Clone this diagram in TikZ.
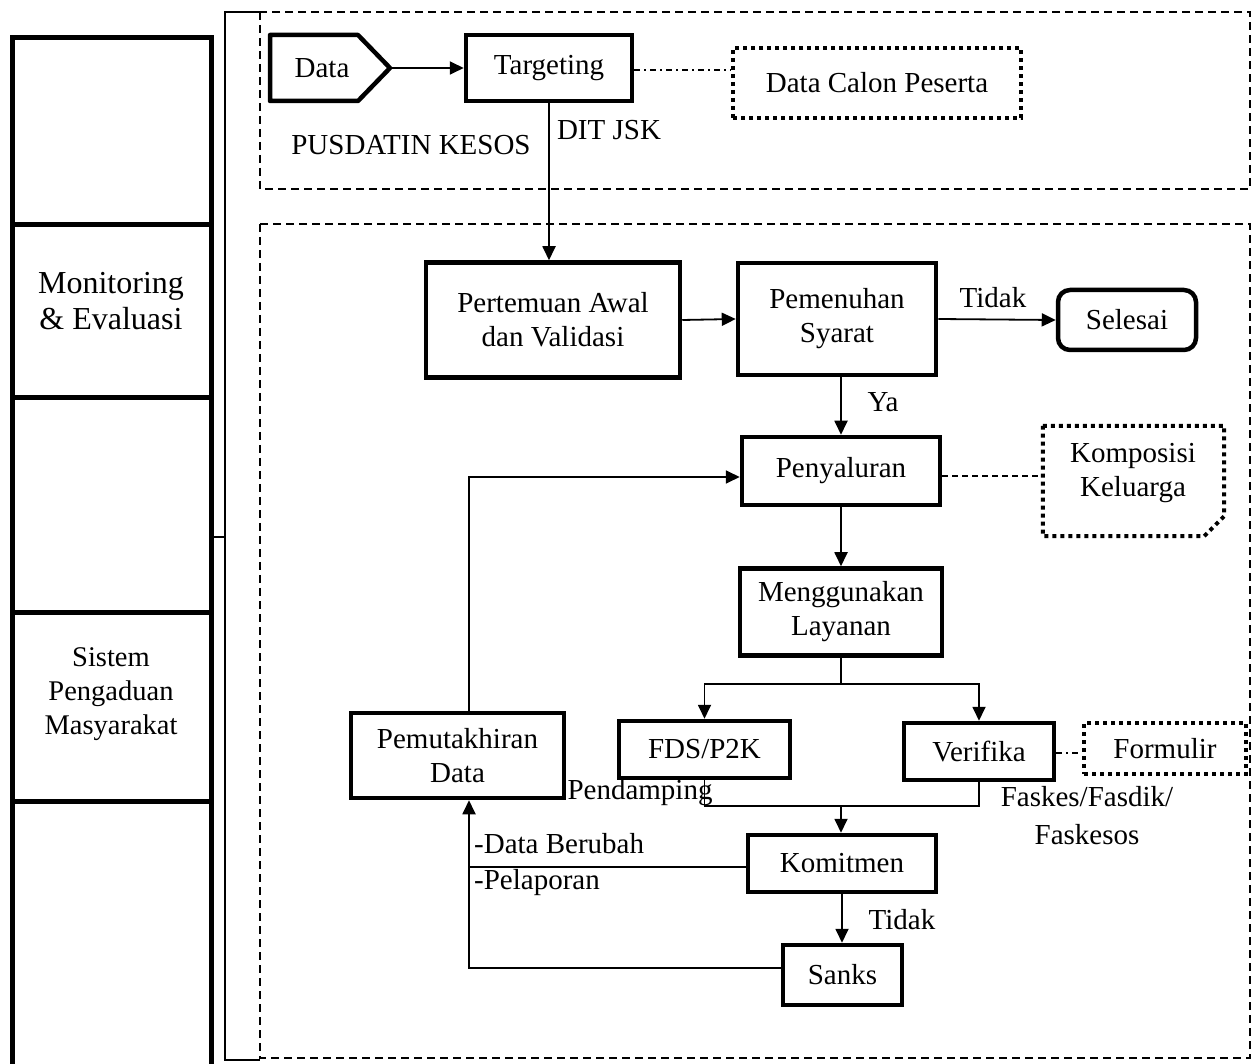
\documentclass[tikz,border=0pt]{standalone}
\usepackage{fontspec}
\setmainfont{Liberation Serif}
\usetikzlibrary{arrows.meta,calc}
\begin{document}
\begin{tikzpicture}[x=1pt,y=-1pt,
  every node/.style={font=\fontsize{29}{34}\selectfont, inner sep=0pt, align=center},
  fbox/.style={draw, line width=4.5pt, rectangle},
  colcell/.style={draw, line width=5pt, minimum width=199pt},
  wire/.style={line width=1.8pt},
  conn/.style={line width=1.8pt, -{Triangle[length=14pt,width=13pt]}},
  dotbox/.style={draw, line width=4pt, dash pattern=on 4pt off 4pt},
  dashbox/.style={line width=1.5pt, dash pattern=on 8pt off 5pt},
  dashdot/.style={line width=1.5pt, dash pattern=on 6pt off 4pt on 2pt off 4pt}]
\useasboundingbox (0,0) rectangle (1254,1064);

% left column
\node[colcell, minimum height=187pt] (c1) at (111.5,131.5) {};
\node[colcell, minimum height=173pt] (c2) at (111.5,311.5) {};
\node[colcell, minimum height=214pt] (c3) at (111.5,505) {};
\node[colcell, minimum height=189pt] (c4) at (111.5,706.5) {};
\node[colcell, minimum height=289pt] (c5) at (111.5,945.5) {};
\node[font=\fontsize{32}{36}\selectfont] (mon) at (111,301) {Monitoring\\\& Evaluasi};
\node[font=\fontsize{28.5}{34}\selectfont] (sis) at (111,694) {Sistem\\Pengaduan\\Masyarakat};

% bracket and lanes
\coordinate (br) at (225,537);
\draw[wire] (260,12) -- (225,12) -- (225,1060) -- (260,1060);
\draw[wire] (c3.east |- br) -- (br);
\draw[dashbox] (260,12) rectangle (1250,189);
\draw[dashbox] (260,224) rectangle (1250,1058);

% top lane
\node (data) at (322,68) {Data};
\draw[line width=4.5pt, line join=round] (270,35) -- (358,35) -- (390,68) -- (358,101) -- (270,101) -- cycle;
\coordinate (dtip) at (392,68);
\node[fbox, minimum width=166pt, minimum height=66pt] (tgt) at (549,68) {Targeting};
\draw[conn] (dtip) -- (tgt);
\node[dotbox, minimum width=288pt, minimum height=70pt] (dcp) at (877,83) {Data Calon Peserta};
\draw[dashdot] (tgt.east |- 0,70) -- (dcp.west |- 0,70);
\node (pus) at (411,145) {PUSDATIN KESOS};
\node (dit) at (609,130) {DIT JSK};

% main flow
\node[fbox, minimum width=254pt, minimum height=115pt] (pert) at (553,320) {Pertemuan Awal\\dan Validasi};
\draw[conn] (tgt.south) -- (tgt.south |- pert.north);
\node[fbox, minimum width=198pt, minimum height=112pt] (pem) at (837,319) {Pemenuhan\\Syarat};
\draw[conn] (pert.east) -- (pem.west);
\node[fbox, rounded corners=12pt, minimum width=138pt, minimum height=60pt] (sel) at (1127,320) {Selesai};
\draw[conn] (pem.east) -- (sel.west);
\node (tidak1) at (993,298) {Tidak};

\node[fbox, minimum width=198pt, minimum height=68pt] (pen) at (841,471) {Penyaluran};
\draw[conn] (pen.north |- pem.south) -- (pen.north);
\node (ya) at (883,402) {Ya};

\node[minimum width=181pt, minimum height=110pt] (komp) at (1133.5,481) {};
\node (komptext) at (1133,473) {Komposisi\\Keluarga};
\draw[dotbox] (komp.north west) -- (komp.north east) -- ($(komp.south east)+(0,-20)$) -- ($(komp.south east)+(-20,0)$) -- (komp.south west) -- cycle;
\draw[wire, dash pattern=on 6pt off 4pt] (pen.east |- 0,476) -- (komp.west |- 0,476);

\node[fbox, minimum width=202pt, minimum height=87pt] (men) at (841,612) {Menggunakan\\Layanan};
\draw[conn] (pen.south) -- (men.north);

\node[fbox, minimum width=171pt, minimum height=57pt] (fds) at (704.5,749.5) {FDS/P2K};
\node[fbox, minimum width=150pt, minimum height=57pt] (ver) at (979,751.5) {Verifika};
\coordinate (br1) at (841,684);
\draw[wire] (men.south) -- (br1);
\draw[conn] (br1) -| (fds.north);
\draw[conn] (br1) -| (ver.north);

\node[dotbox, minimum width=162pt, minimum height=51pt] (form) at (1165,748.5) {Formulir};
\draw[dashdot] (ver.east |- 0,753) -- (form.west |- 0,753);
\node[font=\fontsize{29}{38}\selectfont] (fas) at (1087,816) {Faskes/Fasdik/\\Faskesos};
\node (pdp) at (640,793) {Pendamping};

\node[fbox, minimum width=188pt, minimum height=57pt] (kom) at (842,863.5) {Komitmen};
\coordinate (jn) at (841,806);
\draw[wire] (fds.south) |- (ver.south |- jn) -- (ver.south);
\draw[conn] (jn) -- (jn |- kom.north);

\node[fbox, minimum width=119pt, minimum height=60pt] (san) at (842.5,975) {Sanks};
\draw[conn] (kom.south) -- (kom.south |- san.north);
\node (tidak2) at (902,920) {Tidak};

\node[fbox, minimum width=213pt, minimum height=85pt] (pmt) at (457.5,755.5) {Pemutakhiran\\Data};
\coordinate (cor) at (469,867);
\draw[wire] (kom.west |- cor) -- (cor);
\draw[conn] (san.west |- 0,968) -| (cor |- pmt.south);
\draw[conn] (pmt.north -| cor) |- (pen.west |- 0,477);
\node[anchor=west] (db) at (474,844) {-Data Berubah};
\node[anchor=west] (pl) at (474,883) {-Pelaporan};
\end{tikzpicture}
\end{document}
